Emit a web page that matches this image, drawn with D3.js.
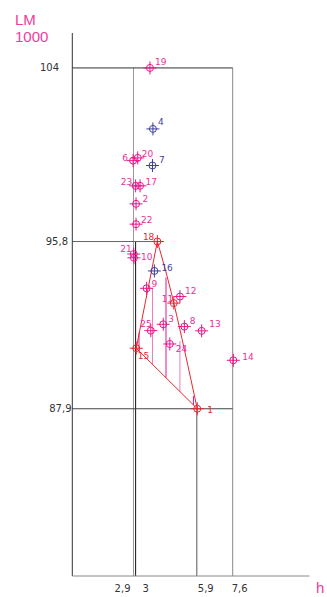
<!DOCTYPE html>
<html>
<head>
<meta charset="utf-8">
<script src="https://cdn.jsdelivr.net/npm/d3@7"></script>
<style>
  body { margin: 0; background: #fff; }
  svg { display: block; }
</style>
</head>
<body>
<script>
// ---- data ----
const pointIds = [1, 2, 3, 4, 6, 7, 8, 9, 10, 11, 12, 13, 14, 15, 16, 17, 18, 19, 20, 21, 22, 23, 24, 25];
const hValues  = [5.92, 3.02, 4.31, 3.82, 2.88, 3.80, 5.31, 3.52, 2.92, 4.81, 5.10, 6.13, 7.63, 3.03, 3.89, 3.21, 4.03, 3.68, 3.10, 2.91, 3.02, 3.00, 4.62, 3.72];
const lmValues = [87.9, 97.58, 91.89, 101.12, 99.62, 99.39, 91.78, 93.59, 95.03, 92.89, 93.2, 91.58, 90.19, 90.76, 94.41, 98.43, 95.8, 104.0, 99.75, 95.21, 96.62, 98.43, 90.96, 91.59];
const groups   = ["r", "m", "m", "b", "m", "b", "m", "m", "m", "r", "m", "m", "m", "r", "b", "m", "r", "m", "m", "m", "m", "m", "m", "m"];

// reference lines (value, extent)
const vRefH   = [2.9, 3, 5.9, 7.6];
const vRefTop = [104, 95.8, 87.9, 104];
const hRefLM  = [104, 95.8, 87.9];
const hRefEnd = [7.6, 4.03, 7.6];

// tick labels
const xTicks = [2.9, 3, 5.9, 7.6];
const yTicks = [104, 95.8, 87.9];

// hatching inside the red outline
const hatchH   = [3.16, 3.80, 4.44, 5.10, 5.74];
const hatchTop = [91.5, 93.6, 94.1, 91.1, 88.5];

// ---- layout ----
const width = 327, height = 597;
const x = d3.scaleLinear().domain([0, 11.23]).range([72.3, 309.3]);
const y = d3.scaleLinear().domain([80, 105.65]).range([576, 33]);

const colors = { m: "#e8168c", b: "#3f3f9c", r: "#e8262e" };
const lineColors = { 2.9: "#999", 3: "#111", 5.9: "#555", 7.6: "#888" };
const hLineColors = { 104: "#333", 95.8: "#666", 87.9: "#444" };
const comma = v => String(v).replace(".", ",");

const svg = d3.select("body").append("svg")
    .attr("width", width)
    .attr("height", height)
    .style("font-family", "'DejaVu Sans', sans-serif");

// axis titles
svg.append("text").attr("x", 15).attr("y", 25).text("LM")
    .attr("fill", "#ee3d9c").style("font-family", "'Liberation Sans', Arial, sans-serif").style("font-size", "15px");
svg.append("text").attr("x", 15).attr("y", 42).text("1000")
    .attr("fill", "#ee3d9c").style("font-family", "'Liberation Sans', Arial, sans-serif").style("font-size", "15px");
svg.append("text").attr("x", 316).attr("y", 593).text("h")
    .attr("fill", "#ee3d9c").style("font-family", "'Liberation Sans', Arial, sans-serif").style("font-size", "15px");

// reference lines
vRefH.forEach((h, i) => {
    svg.append("line")
        .attr("x1", x(h)).attr("x2", x(h))
        .attr("y1", y(vRefTop[i])).attr("y2", y(80))
        .attr("stroke", lineColors[h]).attr("stroke-width", 1);
});
hRefLM.forEach((v, i) => {
    svg.append("line")
        .attr("x1", x(0)).attr("x2", x(hRefEnd[i]))
        .attr("y1", y(v)).attr("y2", y(v))
        .attr("stroke", hLineColors[v]).attr("stroke-width", 1);
});

// axes
svg.append("line").attr("x1", x(0)).attr("x2", x(0)).attr("y1", y.range()[1]).attr("y2", y(80))
    .attr("stroke", "#333");
svg.append("line").attr("x1", x(0)).attr("x2", x.range()[1]).attr("y1", y(80)).attr("y2", y(80))
    .attr("stroke", "#888");

// tick labels
const xLabelShift = { 2.9: ["end", -3], 3: ["start", 7], 5.9: ["start", 1], 7.6: ["start", -1] };
svg.append("g").selectAll("text")
    .data(xTicks)
    .join("text")
    .attr("x", d => x(d) + xLabelShift[d][1])
    .attr("y", 592)
    .attr("text-anchor", d => xLabelShift[d][0])
    .attr("fill", "#333")
    .style("font-size", "10px")
    .text(comma);

const yLabelRight = { 104: 59, 95.8: 68, 87.9: 71.5 };
svg.append("g").selectAll("text")
    .data(yTicks)
    .join("text")
    .attr("x", d => yLabelRight[d])
    .attr("y", d => y(d) + 3.5)
    .attr("text-anchor", "end")
    .attr("fill", "#333")
    .style("font-size", "10px")
    .text(comma);

// red outline: 15 -> 18, 18 -> 11 -> 1 (curved), 1 -> 15
const pt = id => { const i = pointIds.indexOf(id); return [x(hValues[i]), y(lmValues[i])]; };
const p15 = pt(15), p18 = pt(18), p11 = pt(11), p1 = pt(1);

// hatch lines down to the 15-1 edge
const i15 = pointIds.indexOf(15), i1 = pointIds.indexOf(1);
const bottomLM = h => lmValues[i15] + (h - hValues[i15]) / (hValues[i1] - hValues[i15]) * (lmValues[i1] - lmValues[i15]);
svg.append("g").selectAll("line")
    .data(hatchH)
    .join("line")
    .attr("x1", d => x(d)).attr("x2", d => x(d))
    .attr("y1", (d, i) => y(hatchTop[i]))
    .attr("y2", d => y(bottomLM(d)))
    .attr("stroke", (d, i) => i % 2 ? "#f27bbd" : "#e8168c")
    .attr("stroke-width", 1);

const redColor = colors.r;
svg.append("path")
    .attr("d", d3.line()([p15, p18]))
    .attr("fill", "none").attr("stroke", redColor);
svg.append("path")
    .attr("d", d3.line().curve(d3.curveNatural)([p18, p11, p1]))
    .attr("fill", "none").attr("stroke", redColor);
svg.append("path")
    .attr("d", d3.line()([p1, p15]))
    .attr("fill", "none").attr("stroke", redColor);

// label placement per point: [anchor, dx, dy]
const labelPos = {
    1: ["start", 10, 4], 2: ["start", 6.5, -2], 3: ["start", 5, -2.5], 4: ["start", 5, -4],
    6: ["end", -5, 0.5], 7: ["start", 6.5, -2.5], 8: ["start", 5.5, -2.7], 9: ["start", 5, -1],
    10: ["start", 7, 2], 11: ["end", -0.5, -1], 12: ["start", 5, -3], 13: ["start", 7.5, -4.3],
    14: ["start", 9, -0.7], 15: ["start", 1.5, 11], 16: ["start", 7, 0], 17: ["start", 5.5, -1],
    18: ["end", -3, -2], 19: ["start", 5, -3], 20: ["start", 4, -1], 21: ["end", -2, -2],
    22: ["start", 5, -1.6], 23: ["end", -3.5, -1], 24: ["start", 6, 7.7], 25: ["end", 1, -4]
};

const points = pointIds.map((id, i) => ({ id: id, h: hValues[i], lm: lmValues[i], g: groups[i] }));

// crosshair markers
const mk = svg.append("g").selectAll("g")
    .data(points)
    .join("g")
    .attr("transform", d => `translate(${x(d.h)},${y(d.lm)})`)
    .attr("stroke", d => colors[d.g])
    .attr("fill", "none")
    .attr("stroke-width", 1);
mk.append("circle").attr("r", 3.5);
mk.append("line").attr("x1", -6.5).attr("x2", 6.5);
mk.append("line").attr("y1", -6.5).attr("y2", 6.5);

// point labels
svg.append("g").selectAll("text")
    .data(points)
    .join("text")
    .attr("x", d => x(d.h) + labelPos[d.id][1])
    .attr("y", d => y(d.lm) + labelPos[d.id][2])
    .attr("text-anchor", d => labelPos[d.id][0])
    .attr("fill", d => d.g === "b" ? "#3f3f9c" : d.g === "r" && d.id !== 11 ? "#e8262e" : "#ec2f97")
    .style("font-size", "9px")
    .text(d => d.id);
</script>
</body>
</html>
